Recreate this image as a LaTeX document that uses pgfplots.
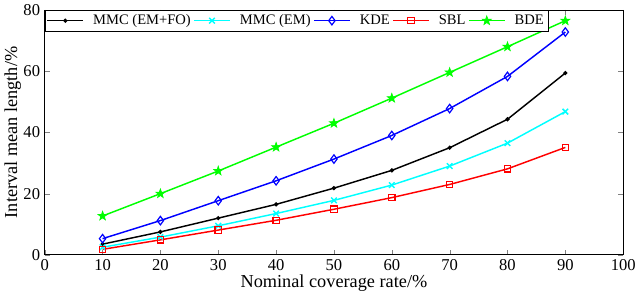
\documentclass[border=0pt]{standalone}
\usepackage{fontspec}
\setmainfont{Liberation Serif}
\usepackage{pgfplots}
\pgfplotsset{compat=1.18}
\definecolor{mcyan}{rgb}{0,1,1}
\definecolor{mgreen}{rgb}{0,1,0}
\definecolor{mblue}{rgb}{0,0,1}
\definecolor{mred}{rgb}{1,0,0}
\pgfdeclareplotmark{fstar}{%
  \pgfpathmoveto{\pgfpointpolar{90}{\pgfplotmarksize}}%
  \pgfpathlineto{\pgfpointpolar{126}{0.4\pgfplotmarksize}}%
  \pgfpathlineto{\pgfpointpolar{162}{\pgfplotmarksize}}%
  \pgfpathlineto{\pgfpointpolar{198}{0.4\pgfplotmarksize}}%
  \pgfpathlineto{\pgfpointpolar{234}{\pgfplotmarksize}}%
  \pgfpathlineto{\pgfpointpolar{270}{0.4\pgfplotmarksize}}%
  \pgfpathlineto{\pgfpointpolar{306}{\pgfplotmarksize}}%
  \pgfpathlineto{\pgfpointpolar{342}{0.4\pgfplotmarksize}}%
  \pgfpathlineto{\pgfpointpolar{18}{\pgfplotmarksize}}%
  \pgfpathlineto{\pgfpointpolar{54}{0.4\pgfplotmarksize}}%
  \pgfpathclose
  \pgfusepathqfillstroke
}
\begin{document}
\begin{tikzpicture}
\begin{axis}[
  scale only axis,
  width=437pt, height=185pt,
  xmin=0, xmax=100, ymin=0, ymax=80,
  xtick={0,10,...,100}, ytick={0,20,...,80},
  /pgf/number format/assume math mode=true,
  tick label style={font=\fontsize{12.5}{14}\selectfont},
  label style={font=\fontsize{13.8}{15}\selectfont},
  xlabel={Nominal coverage rate/\%},
  ylabel={Interval mean length/\%},
  xlabel style={yshift=4pt},
  ylabel style={yshift=-5pt},
  tick align=inside,
  major tick length=4pt,
  axis line style={line width=0.6pt},
  legend columns=5,
  legend style={at={(0,1)}, anchor=north west, font=\fontsize{11}{12}\selectfont,
    draw=black, line width=0.6pt, inner sep=1.2pt,
    /tikz/every even column/.append style={column sep=0pt},
    /tikz/every odd column/.append style={column sep=5pt}},
  legend image code/.code={\draw[mark repeat=2,mark phase=2] plot coordinates {(0pt,0pt)(13.5pt,0pt)(27pt,0pt)};},
  every axis plot/.append style={line width=1.1pt},
]
\addplot[black, mark=*, mark size=1pt] coordinates {(10,3.5)(20,7.5)(30,12)(40,16.5)(50,21.8)(60,27.6)(70,35)(80,44.3)(90,59.4)};
\addlegendentry{MMC (EM+FO)}
\addplot[mcyan, mark=x, mark size=3pt] coordinates {(10,2.5)(20,5.8)(30,9.5)(40,13.5)(50,17.8)(60,22.8)(70,29)(80,36.5)(90,46.8)};
\addlegendentry{MMC (EM)}
\addplot[mblue, mark=diamond, mark size=3.2pt, mark options={line width=0.9pt}] coordinates {(10,5.3)(20,11.2)(30,17.7)(40,24.2)(50,31.3)(60,39)(70,47.8)(80,58.3)(90,72.8)};
\addlegendentry{KDE}
\addplot[mred, mark=square, mark size=2.4pt, mark options={line width=0.9pt}] coordinates {(10,1.8)(20,4.9)(30,8.1)(40,11.3)(50,14.9)(60,18.7)(70,23)(80,28.1)(90,35.1)};
\addlegendentry{SBL}
\addplot[mgreen, mark=fstar, mark size=3.6pt, mark options={line width=0.5pt, fill=mgreen}] coordinates {(10,12.7)(20,20)(30,27.4)(40,35.2)(50,43)(60,51.2)(70,59.6)(80,68)(90,76.5)};
\addlegendentry{BDE}
\end{axis}
\end{tikzpicture}
\end{document}
